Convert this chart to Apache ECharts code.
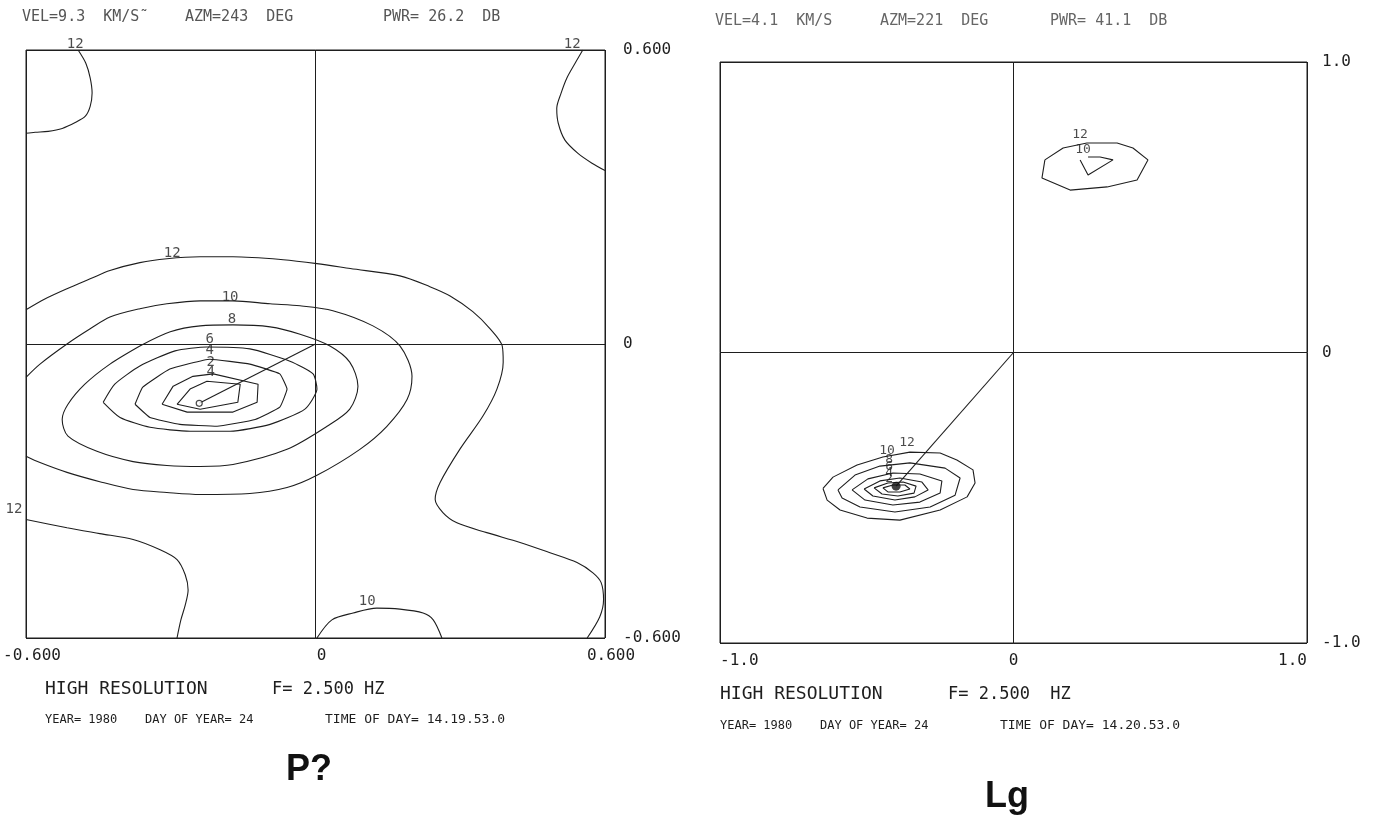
<!DOCTYPE html>
<html><head><meta charset="utf-8">
<script src="https://cdn.jsdelivr.net/npm/echarts@6/dist/echarts.min.js"></script>
<style>html,body{margin:0;padding:0;background:#fff}#c{width:1374px;height:816px}</style>
</head><body><div id="c"></div>
<script>
// ---------- LEFT PANEL (P?) : contour polylines in wavenumber coords ----------
const L12_tl = [[-0.492,0.600],[-0.476,0.573],[-0.467,0.543],[-0.463,0.512],[-0.467,0.485],[-0.477,0.465],[-0.498,0.452],[-0.525,0.440],[-0.554,0.434],[-0.581,0.432],[-0.600,0.430]];
const L12_tr = [[0.554,0.600],[0.538,0.573],[0.521,0.543],[0.509,0.512],[0.500,0.481],[0.503,0.451],[0.517,0.416],[0.544,0.389],[0.573,0.369],[0.600,0.354]];
const L12_main = [[-0.600,0.070],[-0.561,0.092],[-0.515,0.113],[-0.467,0.133],[-0.426,0.150],[-0.364,0.166],[-0.308,0.174],[-0.239,0.178],[-0.171,0.178],[-0.067,0.172],[0.003,0.164],[0.072,0.154],[0.175,0.139],[0.237,0.117],[0.279,0.098],[0.326,0.066],[0.362,0.031],[0.387,-0.004],[0.389,-0.037],[0.376,-0.092],[0.347,-0.147],[0.299,-0.215],[0.258,-0.283],[0.248,-0.317],[0.264,-0.344],[0.293,-0.365],[0.355,-0.385],[0.424,-0.405],[0.486,-0.426],[0.542,-0.446],[0.575,-0.467],[0.592,-0.487],[0.597,-0.522],[0.589,-0.557],[0.563,-0.600]];
const L12_bl = [[-0.600,-0.358],[-0.515,-0.375],[-0.447,-0.387],[-0.378,-0.399],[-0.322,-0.420],[-0.287,-0.440],[-0.270,-0.471],[-0.264,-0.502],[-0.270,-0.533],[-0.279,-0.563],[-0.287,-0.600]];
const L10_bot = [[0.003,-0.600],[0.034,-0.563],[0.078,-0.549],[0.127,-0.539],[0.175,-0.541],[0.223,-0.549],[0.244,-0.563],[0.262,-0.600]];
const L10_main = [[-0.600,-0.068],[-0.571,-0.041],[-0.515,0.000],[-0.467,0.031],[-0.426,0.055],[-0.364,0.072],[-0.308,0.082],[-0.239,0.088],[-0.171,0.088],[-0.094,0.082],[-0.032,0.078],[0.036,0.068],[0.119,0.037],[0.175,-0.004],[0.200,-0.066],[0.190,-0.113],[0.148,-0.168],[0.092,-0.215],[0.003,-0.268],[-0.059,-0.293],[-0.136,-0.305],[-0.239,-0.307],[-0.308,-0.303],[-0.378,-0.297],[-0.447,-0.281],[-0.515,-0.262],[-0.571,-0.242],[-0.600,-0.229]];
const L8 = [[-0.364,-0.004],[-0.426,-0.041],[-0.478,-0.082],[-0.513,-0.123],[-0.525,-0.154],[-0.513,-0.188],[-0.453,-0.219],[-0.378,-0.240],[-0.308,-0.248],[-0.239,-0.250],[-0.171,-0.246],[-0.059,-0.215],[0.024,-0.168],[0.071,-0.133],[0.088,-0.086],[0.071,-0.037],[0.030,-0.004],[-0.032,0.020],[-0.094,0.035],[-0.171,0.039],[-0.239,0.037],[-0.301,0.025],[-0.364,-0.004]];
const L6 = [[-0.440,-0.119],[-0.416,-0.082],[-0.364,-0.045],[-0.291,-0.014],[-0.225,-0.006],[-0.136,-0.010],[-0.053,-0.035],[-0.005,-0.061],[0.003,-0.092],[-0.022,-0.133],[-0.094,-0.164],[-0.177,-0.178],[-0.260,-0.178],[-0.343,-0.170],[-0.405,-0.150],[-0.440,-0.119]];
const L4 = [[-0.374,-0.123],[-0.358,-0.088],[-0.302,-0.051],[-0.219,-0.031],[-0.136,-0.041],[-0.074,-0.061],[-0.059,-0.092],[-0.074,-0.129],[-0.125,-0.154],[-0.204,-0.168],[-0.281,-0.164],[-0.343,-0.150],[-0.374,-0.123]];
const L2 = [[-0.318,-0.123],[-0.295,-0.086],[-0.254,-0.066],[-0.212,-0.061],[-0.119,-0.082],[-0.121,-0.119],[-0.171,-0.139],[-0.266,-0.139],[-0.318,-0.123]];
const L1 = [[-0.287,-0.123],[-0.260,-0.092],[-0.225,-0.076],[-0.156,-0.082],[-0.161,-0.119],[-0.239,-0.133],[-0.287,-0.123]];
const L_peak = [-0.241,-0.121];
const L_labels = [[-0.498,0.612,'12'],[0.532,0.612,'12'],[-0.297,0.186,'12'],[-0.177,0.096,'10'],[-0.173,0.050,'8'],[-0.219,0.010,'6'],[-0.219,-0.012,'4'],[-0.217,-0.037,'2'],[-0.217,-0.057,'4'],[-0.625,-0.338,'12'],[0.107,-0.526,'10']];

// ---------- RIGHT PANEL (Lg) ----------
const R12_tr = [[0.107,0.663],[0.169,0.704],[0.250,0.721],[0.353,0.721],[0.407,0.704],[0.458,0.663],[0.421,0.594],[0.319,0.570],[0.193,0.559],[0.097,0.601],[0.107,0.663]];
const R10_tr = [[0.227,0.663],[0.254,0.611],[0.339,0.663],[0.295,0.673],[0.254,0.673]];
const R12 = [[-0.649,-0.468],[-0.615,-0.429],[-0.533,-0.387],[-0.445,-0.360],[-0.353,-0.343],[-0.250,-0.346],[-0.193,-0.370],[-0.138,-0.404],[-0.131,-0.449],[-0.158,-0.497],[-0.250,-0.542],[-0.387,-0.577],[-0.499,-0.570],[-0.591,-0.542],[-0.635,-0.508],[-0.649,-0.468]];
const R10 = [[-0.598,-0.473],[-0.540,-0.422],[-0.455,-0.391],[-0.353,-0.380],[-0.233,-0.398],[-0.182,-0.432],[-0.199,-0.491],[-0.284,-0.532],[-0.404,-0.549],[-0.523,-0.532],[-0.584,-0.501],[-0.598,-0.473]];
const R8 = [[-0.550,-0.473],[-0.496,-0.435],[-0.411,-0.415],[-0.319,-0.418],[-0.244,-0.442],[-0.250,-0.484],[-0.319,-0.515],[-0.411,-0.525],[-0.506,-0.508],[-0.550,-0.473]];
const R6 = [[-0.509,-0.470],[-0.455,-0.442],[-0.387,-0.432],[-0.312,-0.446],[-0.291,-0.473],[-0.336,-0.497],[-0.404,-0.508],[-0.479,-0.494],[-0.509,-0.470]];
const R4 = [[-0.475,-0.466],[-0.428,-0.449],[-0.376,-0.446],[-0.332,-0.460],[-0.339,-0.484],[-0.394,-0.494],[-0.448,-0.487],[-0.475,-0.466]];
const R2 = [[-0.445,-0.466],[-0.411,-0.456],[-0.370,-0.456],[-0.353,-0.470],[-0.387,-0.480],[-0.428,-0.480],[-0.445,-0.466]];
const R_peak = [-0.400,-0.460];
const R_labels = [[-0.363,-0.311,'12'],[-0.431,-0.339,'10'],[-0.424,-0.368,'8'],[-0.424,-0.392,'6'],[-0.424,-0.413,'4'],[-0.424,-0.433,'2'],[0.227,0.749,'12'],[0.237,0.697,'10']];

// ---------- TEXT ----------
const L_header = ['VEL=9.3  KM/S\u02DC', 'AZM=243  DEG', 'PWR= 26.2  DB'];
const R_header = ['VEL=4.1  KM/S', 'AZM=221  DEG', 'PWR= 41.1  DB'];
const L_res = ['HIGH RESOLUTION', 'F= 2.500 HZ'];
const R_res = ['HIGH RESOLUTION', 'F= 2.500  HZ'];
const L_date = ['YEAR= 1980', 'DAY OF YEAR= 24', 'TIME OF DAY= 14.19.53.0'];
const R_date = ['YEAR= 1980', 'DAY OF YEAR= 24', 'TIME OF DAY= 14.20.53.0'];
const L_phase = 'P?';
const R_phase = 'Lg';

const MONO = '"DejaVu Sans Mono", "Liberation Mono", monospace';
const INK = '#1e1e1e';

function contour(data, xi, smooth) {
  return { type: 'line', xAxisIndex: xi, yAxisIndex: xi, data: data, showSymbol: false, symbol: 'none',
    smooth: smooth || false, lineStyle: { color: INK, width: 1.1 }, silent: true, z: 3 };
}
function labels(data, xi, fs) {
  return { type: 'scatter', xAxisIndex: xi, yAxisIndex: xi, data: data, symbolSize: 1, clip: false,
    itemStyle: { color: 'rgba(0,0,0,0)' }, silent: true, z: 5,
    label: { show: true, position: 'inside', formatter: p => p.value[2], fontFamily: MONO, fontSize: fs, color: INK } };
}
function axisPair(idx, lim, fmt, alignMin, alignMax, fs, ym, pad) {
  const x = { gridIndex: idx, type: 'value', min: -lim, max: lim, interval: lim,
    axisLine: { show: false }, axisTick: { show: false },
    splitLine: { show: true, lineStyle: { color: INK, width: 1 } },
    axisLabel: { formatter: fmt, fontFamily: MONO, fontSize: fs, color: INK, margin: 10, padding: pad, alignMinLabel: alignMin, alignMaxLabel: alignMax } };
  const y = { gridIndex: idx, type: 'value', min: -lim, max: lim, interval: lim, position: 'right',
    axisLine: { show: false }, axisTick: { show: true, length: 7, lineStyle: { color: INK } },
    splitLine: { show: true, lineStyle: { color: INK, width: 1 } },
    axisLabel: { formatter: fmt, fontFamily: MONO, fontSize: 16, color: INK, margin: ym } };
  return [x, y];
}
const fmtL = v => v === 0 ? '0' : v.toFixed(3);
const fmtR = v => v === 0 ? '0' : v.toFixed(1);
const [xL, yL] = axisPair(0, 0.6, fmtL, 'center', 'center', 16, 18, [0, 0, 0, 12]);
const [xR, yR] = axisPair(1, 1.0, fmtR, 'left', 'right', 16, 15, 0);

function txt(x, y, s, fs, color, weight, family) {
  return { type: 'text', left: x, top: y, silent: true,
    style: { text: s, fontFamily: family || MONO, fontSize: fs, fill: color || INK, fontWeight: weight || 'normal' } };
}

const graphics = [
  txt(22, 10, L_header[0], 15, '#555'), txt(185, 10, L_header[1], 15, '#555'), txt(383, 10, L_header[2], 15, '#555'),
  txt(715, 14, R_header[0], 15, '#666'), txt(880, 14, R_header[1], 15, '#666'), txt(1050, 14, R_header[2], 15, '#666'),
  txt(45, 680, L_res[0], 18), txt(272, 681, L_res[1], 17),
  txt(720, 685, R_res[0], 18), txt(948, 686, R_res[1], 17),
  txt(45, 714, L_date[0], 12), txt(145, 714, L_date[1], 12), txt(325, 713, L_date[2], 13),
  txt(720, 720, R_date[0], 12), txt(820, 720, R_date[1], 12), txt(1000, 719, R_date[2], 13),
  txt(286, 752, L_phase, 36, '#111', 'bold', '"Liberation Sans", Arial, sans-serif'),
  txt(985, 779, R_phase, 36, '#111', 'bold', '"Liberation Sans", Arial, sans-serif')
];

const option = {
  animation: false,
  backgroundColor: '#fff',
  grid: [
    { left: 26, top: 50, width: 579, height: 588, show: true, borderColor: INK, borderWidth: 1, backgroundColor: 'transparent', containLabel: false, outerBoundsMode: 'none' },
    { left: 720, top: 62, width: 587, height: 581, show: true, borderColor: INK, borderWidth: 1, backgroundColor: 'transparent', containLabel: false, outerBoundsMode: 'none' }
  ],
  xAxis: [xL, xR],
  yAxis: [yL, yR],
  graphic: graphics,
  series: [
    contour(L12_tl, 0, 0.3), contour(L12_tr, 0, 0.3), contour(L12_main, 0, 0.3), contour(L12_bl, 0, 0.3),
    contour(L10_bot, 0, 0.3), contour(L10_main, 0, 0.3), contour(L8, 0, 0.3), contour(L6, 0, 0.2),
    contour(L4, 0, 0.1), contour(L2, 0), contour(L1, 0),
    contour([[0, 0], L_peak], 0),
    { type: 'scatter', xAxisIndex: 0, yAxisIndex: 0, data: [L_peak], symbol: 'circle', symbolSize: 6, z: 6,
      itemStyle: { color: '#fff', borderColor: INK, borderWidth: 1.2 }, silent: true },
    labels(L_labels, 0, 14),
    contour(R12_tr, 1), contour(R10_tr, 1), contour(R12, 1), contour(R10, 1), contour(R8, 1),
    contour(R6, 1), contour(R4, 1), contour(R2, 1),
    contour([[0, 0], R_peak], 1),
    { type: 'scatter', xAxisIndex: 1, yAxisIndex: 1, data: [R_peak], symbol: 'circle', symbolSize: 9, z: 6,
      itemStyle: { color: '#111' }, silent: true },
    labels(R_labels, 1, 13)
  ]
};
const chart = echarts.init(document.getElementById('c'));
chart.setOption(option);
</script></body></html>
